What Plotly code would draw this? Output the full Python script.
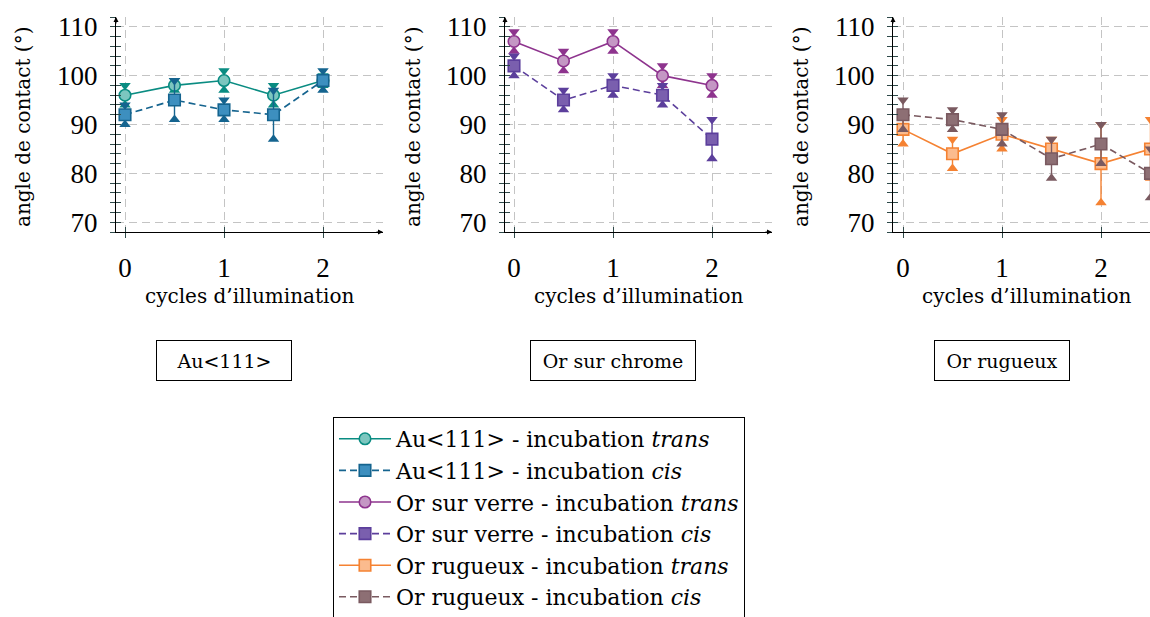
import plotly.graph_objects as go

# ---------------- data ----------------
cycles = [0, 0.5, 1, 1.5, 2]
cycles_rug = [0, 0.5, 1, 1.5, 2, 2.5]

au_trans = [96, 98, 99, 96, 99]
au_trans_err = [2, 1, 2, 2, 1]
au_cis = [92, 95, 93, 92, 99]
au_cis_err = [2, 4, 2, 5, 2]

verre_trans = [107, 103, 107, 100, 98]
verre_trans_err = [2, 2, 2, 2, 2]
verre_cis = [102, 95, 98, 96, 87]
verre_cis_err = [2, 2, 2, 2, 4]

rug_trans = [89, 84, 88, 85, 82, 85]
rug_trans_err = [3, 3, 3, 2, 8, 6]
rug_cis = [92, 91, 89, 83, 86, 80]
rug_cis_err = [3, 2, 3, 4, 4, 5]

panel_titles = ["Au&lt;111&gt;", "Or sur chrome", "Or rugueux"]
x_ticks = [0, 1, 2]
y_ticks = [70, 80, 90, 100, 110]

# ---------------- styling ----------------
W, H = 1150, 617
SERIF = "DejaVu Serif"
TICKFONT = "Liberation Serif"

series = [
    # name, x, y, err, panel, symbol, line colour, fill colour, dash
    ("Au&lt;111&gt; - incubation <i>trans</i>", cycles, au_trans, au_trans_err, 1, "circle", "#0a8c82", "#7cc6bf", "solid"),
    ("Au&lt;111&gt; - incubation <i>cis</i>", cycles, au_cis, au_cis_err, 1, "square", "#15648f", "#3d8fbf", "7px,4px"),
    ("Or sur verre - incubation <i>trans</i>", cycles, verre_trans, verre_trans_err, 2, "circle", "#8e348e", "#c497c4", "solid"),
    ("Or sur verre - incubation <i>cis</i>", cycles, verre_cis, verre_cis_err, 2, "square", "#5c3f9c", "#7a5fae", "7px,4px"),
    ("Or rugueux - incubation <i>trans</i>", cycles_rug, rug_trans, rug_trans_err, 3, "square", "#f58232", "#fbbb8e", "solid"),
    ("Or rugueux - incubation <i>cis</i>", cycles_rug, rug_cis, rug_cis_err, 3, "square", "#7a5a60", "#8d6f74", "7px,4px"),
]

axis_px = [116, 505, 893]      # y-axis pixel position
zero_px = [125, 514, 903]      # pixel of x = 0
PXU = 99.0                     # pixels per cycle
right_px = [383, 772, 1150]
Y_TOP, Y_BOT = 17, 232
y_dom = [1 - Y_BOT / H, 1 - Y_TOP / H]

fig = go.Figure()

for name, xs, ys, err, p, sym, lc, fc, dash in series:
    xa = "x" if p == 1 else f"x{p}"
    ya = "y" if p == 1 else f"y{p}"
    up = [v + e for v, e in zip(ys, err)]
    lo = [v - e for v, e in zip(ys, err)]
    fig.add_trace(go.Scatter(x=xs, y=up, mode="markers", xaxis=xa, yaxis=ya, showlegend=False,
                             marker=dict(symbol="triangle-down", size=10, color=lc, line=dict(width=0)),
                             hoverinfo="skip"))
    fig.add_trace(go.Scatter(x=xs, y=lo, mode="markers", xaxis=xa, yaxis=ya, showlegend=False,
                             marker=dict(symbol="triangle-up", size=10, color=lc, line=dict(width=0)),
                             hoverinfo="skip"))
    fig.add_trace(go.Scatter(
        x=xs, y=ys, name=name, mode="lines+markers", xaxis=xa, yaxis=ya,
        line=dict(color=lc, width=1.6, dash=dash),
        marker=dict(symbol=sym, size=11.5, color=fc, line=dict(color=lc, width=1.6)),
        error_y=dict(type="data", array=err, visible=True, color=lc, thickness=1.4, width=0),
    ))

layout = dict(
    width=W, height=H, autosize=False,
    margin=dict(l=0, r=0, t=0, b=0, autoexpand=False),
    paper_bgcolor="white", plot_bgcolor="white",
    font=dict(family=SERIF, size=20, color="black"),
    legend=dict(x=333 / W, y=1 - 417 / H, xanchor="left", yanchor="top",
                bordercolor="black", borderwidth=1, bgcolor="white",
                font=dict(family=SERIF, size=22), tracegroupgap=0, itemwidth=52),
    showlegend=True,
)

annotations = []
for i in range(3):
    p = i + 1
    sfx = "" if p == 1 else str(p)
    x0 = axis_px[i]
    x1 = right_px[i]
    xr = [(x0 - zero_px[i]) / PXU, (x1 - zero_px[i]) / PXU]
    dom = [x0 / W, min(x1 / W, 1.0)]
    layout["xaxis" + sfx] = dict(
        domain=dom, range=xr, anchor="y" + sfx, tickvals=x_ticks, automargin=False,
        showgrid=True, gridcolor="#c4c4c4", griddash="8px,5px", gridwidth=1,
        zeroline=False, showline=True, linecolor="black", linewidth=1,
        ticks="inside", ticklen=5, tickcolor="#2f4a4a", tickwidth=1,
        tickfont=dict(family=TICKFONT, size=27), ticklabelstandoff=12,
        fixedrange=True,
    )
    layout["yaxis" + sfx] = dict(
        domain=y_dom, range=[68, 112], anchor="x" + sfx, tickvals=y_ticks, automargin=False,
        showgrid=True, gridcolor="#c4c4c4", griddash="8px,5px", gridwidth=1,
        zeroline=False, showline=True, linecolor="black", linewidth=1,
        ticks="inside", ticklen=5, tickcolor="#2f4a4a", tickwidth=1,
        minor=dict(dtick=2, ticks="inside", ticklen=5, tickcolor="#2f4a4a", showgrid=False),
        tickfont=dict(family=TICKFONT, size=27), ticklabelstandoff=12,
        fixedrange=True,
    )
    # overlay axes to make ticks cross the axis lines
    ox, oy = f"x{p + 3}", f"y{p + 3}"
    layout["xaxis" + str(p + 3)] = dict(
        domain=dom, range=xr, anchor=oy, overlaying="x" + sfx, side="bottom", automargin=False,
        tickvals=x_ticks, showticklabels=False, showgrid=False, zeroline=False,
        showline=False, ticks="outside", ticklen=5, tickcolor="#2f4a4a", tickwidth=1, fixedrange=True,
    )
    layout["yaxis" + str(p + 3)] = dict(
        domain=y_dom, range=[68, 112], anchor=ox, overlaying="y" + sfx, side="left", automargin=False,
        tickvals=y_ticks, showticklabels=False, showgrid=False, zeroline=False, showline=False,
        ticks="outside", ticklen=5, tickcolor="#2f4a4a", tickwidth=1,
        minor=dict(dtick=2, ticks="outside", ticklen=5, tickcolor="#2f4a4a", showgrid=False),
        fixedrange=True,
    )
    fig.add_trace(go.Scatter(x=[], y=[], xaxis=ox, yaxis=oy, showlegend=False, hoverinfo="skip"))

    # axis arrows
    annotations.append(dict(x=xr[0], y=112, xref="x" + sfx, yref="y" + sfx, ax=0, ay=8,
                            axref="pixel", ayref="pixel", text="", showarrow=True,
                            arrowhead=2, arrowsize=1, arrowwidth=1, arrowcolor="black", standoff=0))
    if p < 3:
        annotations.append(dict(x=xr[1], y=68, xref="x" + sfx, yref="y" + sfx, ax=-8, ay=0,
                                axref="pixel", ayref="pixel", text="", showarrow=True,
                                arrowhead=2, arrowsize=1, arrowwidth=1, arrowcolor="black", standoff=0))
    # axis titles
    cx = (axis_px[i] + axis_px[i] + 267) / 2
    annotations.append(dict(x=cx / W, y=1 - 296 / H, xref="paper", yref="paper",
                            text="cycles d’illumination", showarrow=False,
                            font=dict(family=SERIF, size=20), xanchor="center", yanchor="middle"))
    ytx = [23, 413, 801][i]
    annotations.append(dict(x=ytx / W, y=1 - 127 / H, xref="paper", yref="paper",
                            text="angle de contact (°)", showarrow=False, textangle=-90,
                            font=dict(family=SERIF, size=20), xanchor="center", yanchor="middle"))
    # panel title boxes
    bw = [134, 164, 134][i]
    annotations.append(dict(x=1, y=1 - 360.5 / H, xref="x" + sfx, yref="paper",
                            text=panel_titles[i], showarrow=False, width=bw, height=39,
                            bordercolor="black", borderwidth=1, borderpad=0, bgcolor="white",
                            font=dict(family=SERIF, size=19), xanchor="center", yanchor="middle"))

layout["annotations"] = annotations
fig.update_layout(**layout)
fig.write_html("out.html", config={"displayModeBar": False},
               post_script="document.body.style.margin='0';document.body.style.overflow='hidden';")
